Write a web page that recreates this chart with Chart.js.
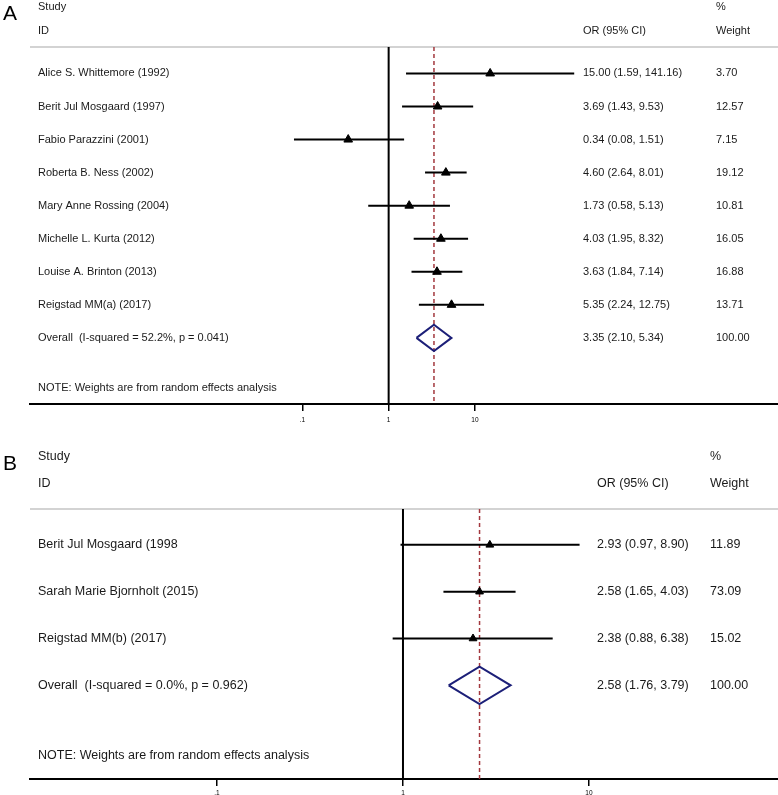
<!DOCTYPE html>
<html>
<head>
<meta charset="utf-8">
<script src="https://cdn.jsdelivr.net/npm/chart.js@4.4.1/dist/chart.umd.min.js"></script>
<style>
  body { margin: 0; background: #fff; }
  .panel { position: absolute; left: 0; width: 778px; }
  #panel-a { top: 0; height: 430px; }
  #panel-b { top: 430px; height: 365px; }
</style>
</head>
<body>
<div class="panel" id="panel-a"><canvas id="chart-a"></canvas></div>
<div class="panel" id="panel-b"><canvas id="chart-b"></canvas></div>
<script>
// ---- Panel A data ----
const studiesA = [
  'Alice S. Whittemore (1992)', 'Berit Jul Mosgaard (1997)', 'Fabio Parazzini (2001)',
  'Roberta B. Ness (2002)', 'Mary Anne Rossing (2004)', 'Michelle L. Kurta (2012)',
  'Louise A. Brinton (2013)', 'Reigstad MM(a) (2017)'
];
const orA = [15.00, 3.69, 0.34, 4.60, 1.73, 4.03, 3.63, 5.35];
const lowA = [1.59, 1.43, 0.08, 2.64, 0.58, 1.95, 1.84, 2.24];
const highA = [141.16, 9.53, 1.51, 8.01, 5.13, 8.32, 7.14, 12.75];
const weightA = [3.70, 12.57, 7.15, 19.12, 10.81, 16.05, 16.88, 13.71];
const overallA = [3.35, 2.10, 5.34];
const overallLabelA = 'Overall  (I-squared = 52.2%, p = 0.041)';

// ---- Panel B data ----
const studiesB = ['Berit Jul Mosgaard (1998', 'Sarah Marie Bjornholt (2015)', 'Reigstad MM(b) (2017)'];
const orB = [2.93, 2.58, 2.38];
const lowB = [0.97, 1.65, 0.88];
const highB = [8.90, 4.03, 6.38];
const weightB = [11.89, 73.09, 15.02];
const overallB = [2.58, 1.76, 3.79];
const overallLabelB = 'Overall  (I-squared = 0.0%, p = 0.962)';

// shared axis ticks
const tickValues = [0.1, 1, 10];
const tickLabels = ['.1', '1', '10'];
const noteText = 'NOTE: Weights are from random effects analysis';

const FONT = '"Liberation Sans", Arial, Helvetica, sans-serif';

const fmtCI = (e, l, h) => e.toFixed(2) + ' (' + l.toFixed(2) + ', ' + h.toFixed(2) + ')';

// draws header, reference lines and text columns
const forestPlugin = {
  id: 'forest',
  beforeDatasetsDraw(chart) {
    const o = chart.options.plugins.forest;
    const { ctx, chartArea } = chart;
    const xs = chart.scales.x;
    ctx.save();
    // grey header rule
    ctx.strokeStyle = '#c4c4c4';
    ctx.lineWidth = 1.5;
    ctx.beginPath();
    ctx.moveTo(chartArea.left, chartArea.top);
    ctx.lineTo(chartArea.right, chartArea.top);
    ctx.stroke();
    // null line
    const x1 = xs.getPixelForValue(1);
    ctx.strokeStyle = '#000';
    ctx.lineWidth = 2;
    ctx.beginPath();
    ctx.moveTo(x1, chartArea.top);
    ctx.lineTo(x1, chartArea.bottom);
    ctx.stroke();
    // overall estimate line
    const xo = xs.getPixelForValue(o.overall[0]);
    ctx.strokeStyle = '#a3383e';
    ctx.lineWidth = 1.5;
    ctx.setLineDash([4, 3]);
    ctx.beginPath();
    ctx.moveTo(xo, chartArea.top);
    ctx.lineTo(xo, chartArea.bottom);
    ctx.stroke();
    ctx.restore();
  },
  afterDraw(chart) {
    const o = chart.options.plugins.forest;
    const { ctx } = chart;
    const ys = chart.scales.y;
    ctx.save();
    ctx.fillStyle = '#000';
    ctx.textBaseline = 'middle';
    ctx.font = '21px ' + FONT;
    ctx.fillText(o.letter, 3, o.letterY);

    ctx.fillStyle = '#1a1a1a';
    ctx.font = o.fontSize + 'px ' + FONT;
    ctx.fillText('Study', o.colStudy, o.head1);
    ctx.fillText('ID', o.colStudy, o.head2);
    ctx.fillText('OR (95% CI)', o.colOR, o.head2);
    ctx.fillText('%', o.colW, o.head1);
    ctx.fillText('Weight', o.colW, o.head2);

    o.studies.forEach((s, i) => {
      const y = ys.getPixelForValue(i + 1);
      ctx.fillText(s, o.colStudy, y);
      ctx.fillText(fmtCI(o.or[i], o.low[i], o.high[i]), o.colOR, y);
      ctx.fillText(o.weight[i].toFixed(2), o.colW, y);
    });
    const yo = ys.getPixelForValue(o.studies.length + 1);
    ctx.fillText(o.overallLabel, o.colStudy, yo);
    ctx.fillText(fmtCI(o.overall[0], o.overall[1], o.overall[2]), o.colOR, yo);
    ctx.fillText('100.00', o.colW, yo);
    ctx.fillText(noteText, o.colStudy, ys.getPixelForValue(o.noteRow));
    ctx.restore();
  }
};

function makeForest(canvasId, p) {
  const canvas = document.getElementById(canvasId);
  const ctx = canvas.getContext('2d');
  const n = p.studies.length;
  const rOverall = n + 1;

  const ciSets = p.studies.map((s, i) => ({
    type: 'scatter',
    showLine: true,
    data: [{ x: p.low[i], y: i + 1 }, { x: p.high[i], y: i + 1 }],
    borderColor: '#000',
    borderWidth: 2,
    pointRadius: 0
  }));

  return new Chart(ctx, {
    type: 'scatter',
    data: {
      datasets: [
        ...ciSets,
        {
          data: p.or.map((v, i) => ({ x: v, y: i + 1 })),
          pointStyle: 'triangle',
          pointRadius: p.markerR,
          backgroundColor: '#000',
          borderColor: '#000',
          borderWidth: 1
        },
        {
          showLine: true,
          data: [
            { x: p.overall[1], y: rOverall },
            { x: p.overall[0], y: rOverall - 0.4 },
            { x: p.overall[2], y: rOverall },
            { x: p.overall[0], y: rOverall + 0.4 },
            { x: p.overall[1], y: rOverall }
          ],
          borderColor: '#1c1f78',
          borderWidth: 2,
          pointRadius: 0,
          fill: false
        }
      ]
    },
    options: {
      responsive: true,
      maintainAspectRatio: false,
      animation: false,
      layout: { autoPadding: false, padding: { left: 30, top: p.padTop, right: 0, bottom: 0 } },
      plugins: {
        legend: { display: false },
        tooltip: { enabled: false },
        forest: p
      },
      scales: {
        x: {
          type: 'logarithmic',
          min: p.xMin,
          max: p.xMax,
          afterBuildTicks: (s) => { s.ticks = tickValues.map(v => ({ value: v })); },
          afterFit: (s) => { s.height = p.axisH; },
          border: { color: '#000', width: 2 },
          grid: { drawOnChartArea: false, drawTicks: true, tickLength: 7, color: '#000', lineWidth: 1.5 },
          ticks: {
            autoSkip: false,
            maxRotation: 0,
            padding: p.tickPad,
            color: '#000',
            font: { family: FONT, size: 6.5 },
            callback: (v, i) => tickLabels[i]
          }
        },
        y: {
          type: 'linear',
          display: false,
          reverse: true,
          min: p.yMin,
          max: p.yMax
        }
      }
    },
    plugins: [forestPlugin]
  });
}

makeForest('chart-a', {
  letter: 'A', letterY: 14,
  studies: studiesA, or: orA, low: lowA, high: highA, weight: weightA,
  overall: overallA, overallLabel: overallLabelA, noteRow: 10.5,
  fontSize: 11, markerR: 5,
  colStudy: 38, colOR: 583, colW: 716, head1: 7, head2: 31,
  padTop: 47, axisH: 26, tickPad: 5,
  xMin: 7.3e-5, xMax: 32400, yMin: 0.2, yMax: 11
});

makeForest('chart-b', {
  letter: 'B', letterY: 34,
  studies: studiesB, or: orB, low: lowB, high: highB, weight: weightB,
  overall: overallB, overallLabel: overallLabelB, noteRow: 5.5,
  fontSize: 12.5, markerR: 4.5,
  colStudy: 38, colOR: 597, colW: 710, head1: 27, head2: 54,
  padTop: 79, axisH: 16, tickPad: 3,
  xMin: 0.00988, xMax: 103.8, yMin: 0.234, yMax: 6
});
</script>
</body>
</html>
